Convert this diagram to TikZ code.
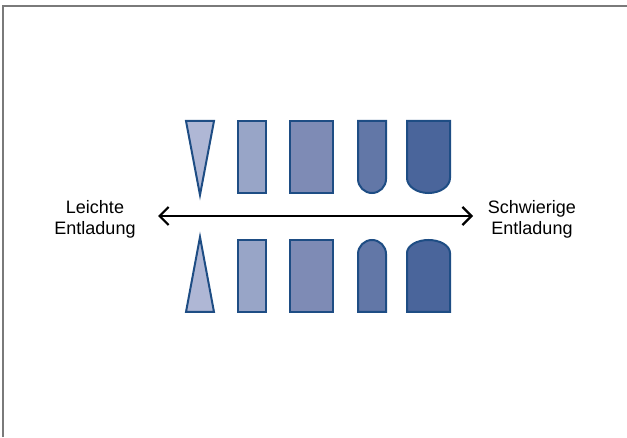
\documentclass[tikz,border=0pt]{standalone}
\usepackage{fontspec}
\setmainfont{Liberation Sans}
\usetikzlibrary{arrows.meta}
\definecolor{edgeblue}{HTML}{1E4D84}
\definecolor{fillA}{HTML}{AFB7D5}
\definecolor{fillB}{HTML}{98A5C7}
\definecolor{fillC}{HTML}{7E8BB5}
\definecolor{fillD}{HTML}{6277A7}
\definecolor{fillE}{HTML}{4A659B}
\definecolor{framegray}{HTML}{7A7A7A}
\begin{document}
\begin{tikzpicture}[x=1pt,y=1pt,
  shp/.style={draw=edgeblue,line width=2pt,line join=miter},
  lbl/.style={font=\fontsize{18}{21}\selectfont,align=center,inner sep=0pt},
  axis/.style={line width=2.2pt,{Straight Barb[length=9pt,width=18pt]}-{Straight Barb[length=9pt,width=18pt]}}]
\useasboundingbox (0,0) rectangle (627,437);
\draw[framegray,line width=2pt] (3,0) -- (3,431) -- (627,431);
% top row
\filldraw[shp,fill=fillA] (186,316) -- (214,316) -- (200,242) -- cycle;
\filldraw[shp,fill=fillB] (238,316) rectangle (266,244);
\filldraw[shp,fill=fillC] (290,316) rectangle (333,244);
\filldraw[shp,fill=fillD] (358,316) -- (386,316) -- (386,258) arc[start angle=0,end angle=-180,radius=14] -- cycle;
\filldraw[shp,fill=fillE] (407,316) -- (450,316) -- (450,259) arc[start angle=0,end angle=-180,x radius=21.5,y radius=15] -- cycle;
% bottom row
\filldraw[shp,fill=fillA] (186,125) -- (214,125) -- (200,200) -- cycle;
\filldraw[shp,fill=fillB] (238,197) rectangle (266,125);
\filldraw[shp,fill=fillC] (290,197) rectangle (333,125);
\filldraw[shp,fill=fillD] (358,125) -- (386,125) -- (386,183) arc[start angle=0,end angle=180,radius=14] -- cycle;
\filldraw[shp,fill=fillE] (407,125) -- (450,125) -- (450,184) arc[start angle=0,end angle=180,x radius=21.5,y radius=13] -- cycle;
% arrow and labels
\coordinate (L) at (158,221);
\coordinate (R) at (473,221);
\draw[axis] (L) -- (R);
\node[lbl] (lt) at (95,218) {Leichte\\Entladung};
\node[lbl] (rt) at (532,218) {Schwierige\\Entladung};
\end{tikzpicture}
\end{document}
